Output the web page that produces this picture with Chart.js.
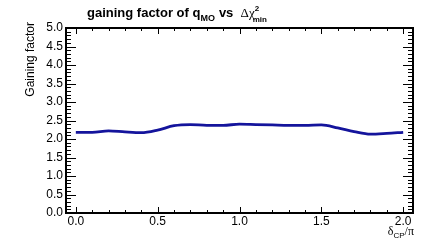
<!DOCTYPE html>
<html>
<head>
<meta charset="utf-8">
<script src="https://cdn.jsdelivr.net/npm/chart.js@4"></script>
<style>
  html, body { margin: 0; padding: 0; background: #fff; }
  canvas { display: block; }
</style>
</head>
<body>
<canvas id="gainChart" width="436" height="252"></canvas>
<script>
// delta_CP / pi
const deltaCP = [0.0, 0.1, 0.2, 0.3, 0.4, 0.5, 0.6, 0.7, 0.8, 0.9, 1.0,
                 1.1, 1.2, 1.3, 1.4, 1.5, 1.6, 1.7, 1.8, 1.9, 2.0];
const gainingFactor = [2.18, 2.18, 2.22, 2.19, 2.17, 2.24, 2.36, 2.39, 2.37, 2.37, 2.40,
                       2.39, 2.38, 2.37, 2.37, 2.38, 2.30, 2.20, 2.13, 2.15, 2.18];
const xTickValues = [0.0, 0.5, 1.0, 1.5, 2.0];
const yTickValues = [0.0, 0.5, 1.0, 1.5, 2.0, 2.5, 3.0, 3.5, 4.0, 4.5, 5.0];

const SANS = '"Liberation Sans", Arial, sans-serif';
const SERIF = '"Liberation Serif", "Times New Roman", serif';

// draws pieces of text one after another, [text, font, dy, extra gap]
function drawPieces(ctx, x, y, pieces) {
    pieces.forEach(p => {
        ctx.font = p[1];
        ctx.fillText(p[0], x, y + (p[2] || 0));
        x += ctx.measureText(p[0]).width + (p[3] || 0);
    });
    return x;
}

function piecesWidth(ctx, pieces) {
    let w = 0;
    pieces.forEach(p => {
        ctx.font = p[1];
        w += ctx.measureText(p[0]).width + (p[3] || 0);
    });
    return w;
}

// cuadro estilo ROOT con marcas hacia dentro + textos
const rootFrame = {
    id: 'rootFrame',
    afterDatasetsDraw(chart) {
        const { ctx, chartArea: a, scales: { x, y } } = chart;
        ctx.save();
        ctx.strokeStyle = '#000';
        ctx.lineWidth = 1;
        ctx.beginPath();
        for (let i = 0; i <= 20; i++) {
            const px = Math.round(x.getPixelForValue(i / 10)) + 0.5;
            const len = i % 5 === 0 ? 6 : 3;
            ctx.moveTo(px, a.bottom); ctx.lineTo(px, a.bottom - len);
            ctx.moveTo(px, a.top); ctx.lineTo(px, a.top + len);
        }
        for (let i = 0; i <= 50; i++) {
            const py = Math.round(y.getPixelForValue(i / 10)) + 0.5;
            const len = i % 5 === 0 ? 10 : 5;
            ctx.moveTo(a.left, py); ctx.lineTo(a.left + len, py);
            ctx.moveTo(a.right, py); ctx.lineTo(a.right - len, py);
        }
        ctx.stroke();
        ctx.lineWidth = 2;
        ctx.strokeRect(a.left, a.top, a.right - a.left, a.bottom - a.top);

        ctx.fillStyle = '#000';
        ctx.textBaseline = 'alphabetic';
        ctx.textAlign = 'left';

        // titulo
        const end = drawPieces(ctx, 87, 17, [
            ['gaining factor of q', 'bold 13px ' + SANS],
            ['MO', 'bold 9px ' + SANS, 4, 4],
            ['vs  ', 'bold 13px ' + SANS],
            ['\u0394\u03c7', '13px ' + SERIF]
        ]);
        ctx.font = 'bold 8px ' + SANS;
        ctx.fillText('2', end, 11);
        ctx.fillText('min', end - 2, 22);

        // titulo eje x
        const xt = [
            ['\u03b4', '12px ' + SERIF],
            ['CP', '8px ' + SANS, 3],
            ['/\u03c0', '12px ' + SERIF]
        ];
        drawPieces(ctx, a.right + 1 - piecesWidth(ctx, xt), 235, xt);

        // titulo eje y
        ctx.save();
        ctx.translate(34, a.top - 6);
        ctx.rotate(-Math.PI / 2);
        ctx.textAlign = 'right';
        ctx.font = '12px ' + SANS;
        ctx.fillText('Gaining factor', 0, 0);
        ctx.restore();

        ctx.restore();
    }
};

new Chart(document.getElementById('gainChart'), {
    type: 'line',
    data: {
        datasets: [{
            data: deltaCP.map((v, i) => ({ x: v, y: gainingFactor[i] })),
            borderColor: '#14149c',
            borderWidth: 2.8,
            pointRadius: 0,
            fill: false,
            cubicInterpolationMode: 'monotone'
        }]
    },
    options: {
        responsive: false,
        devicePixelRatio: 1,
        animation: false,
        layout: { padding: { left: 0, top: 28, right: 23, bottom: 0 } },
        plugins: {
            legend: { display: false },
            tooltip: { enabled: false }
        },
        scales: {
            x: {
                type: 'linear',
                min: -0.06,
                max: 2.06,
                grid: { display: false, drawTicks: false },
                border: { display: false },
                afterBuildTicks: s => { s.ticks = xTickValues.map(v => ({ value: v })); },
                afterFit: s => { s.height = 39; },
                ticks: {
                    padding: 1,
                    color: '#000',
                    font: { family: SANS, size: 12 },
                    callback: v => v.toFixed(1)
                }
            },
            y: {
                type: 'linear',
                min: 0,
                max: 5,
                grid: { display: false, drawTicks: false },
                border: { display: false },
                afterBuildTicks: s => { s.ticks = yTickValues.map(v => ({ value: v })); },
                afterFit: s => { s.width = 66; },
                ticks: {
                    padding: 3,
                    color: '#000',
                    font: { family: SANS, size: 12 },
                    callback: v => v.toFixed(1)
                }
            }
        }
    },
    plugins: [rootFrame]
});
</script>
</body>
</html>
